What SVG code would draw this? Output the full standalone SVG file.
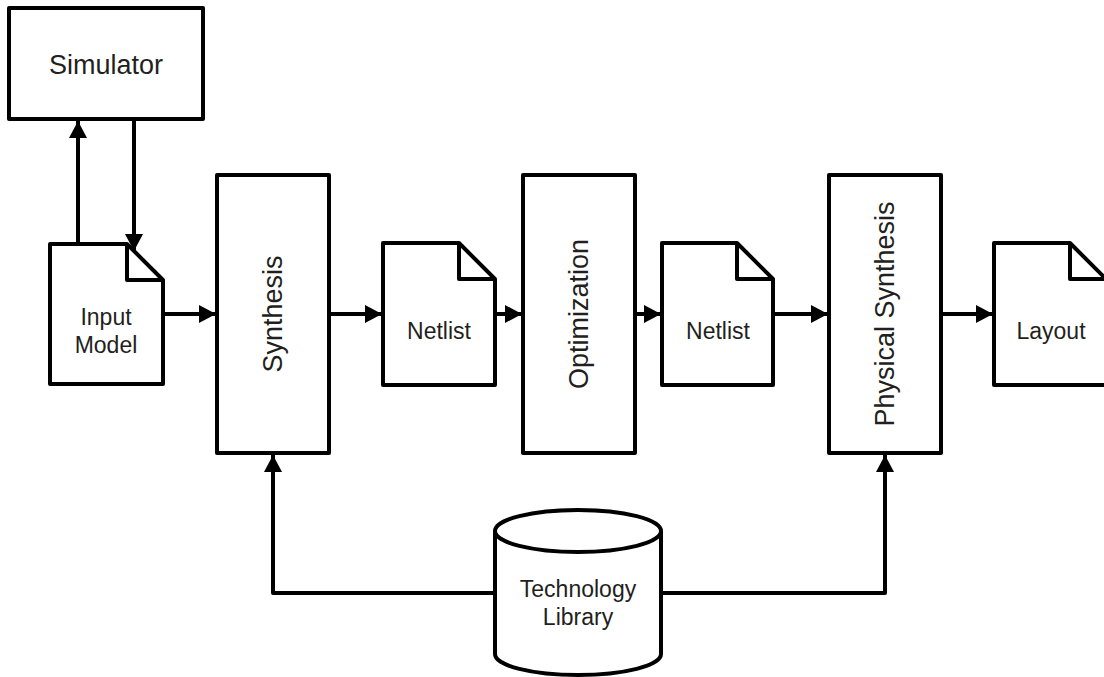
<svg xmlns="http://www.w3.org/2000/svg" width="1104" height="677" viewBox="0 0 1104 677">
  <defs>
    <marker id="arrow" markerUnits="userSpaceOnUse" markerWidth="18" markerHeight="18" refX="17" refY="9" orient="auto">
      <path d="M0,0 L17,9 L0,18 Z" fill="#000"/>
    </marker>
    <style>
      .shape { fill: #fff; stroke: #000; stroke-width: 4; stroke-linejoin: round; }
      .fold { fill: none; stroke: #000; stroke-width: 4; stroke-linejoin: round; }
      .wire { fill: none; stroke: #000; stroke-width: 4; stroke-linejoin: round; marker-end: url(#arrow); }
      .lbl { font-family: "Liberation Sans", Arial, sans-serif; fill: #231f20; text-anchor: middle; }
      .big { font-size: 27px; }
      .small { font-size: 23px; }
    </style>
  </defs>
  <rect width="1104" height="677" fill="#fff"/>

  <!-- connectors -->
  <g id="connectors">
    <path class="wire" d="M78,243 V121"/>
    <path class="wire" d="M134,121 V251"/>
    <path class="wire" d="M165,314 H216"/>
    <path class="wire" d="M331,314 H382"/>
    <path class="wire" d="M497,314 H522"/>
    <path class="wire" d="M637,314 H661"/>
    <path class="wire" d="M775,314 H828"/>
    <path class="wire" d="M943,314 H993"/>
    <path class="wire" d="M495,593 H273 V455"/>
    <path class="wire" d="M661,593 H885 V455"/>
  </g>

  <g id="simulator">
    <rect class="shape" x="9" y="8" width="194" height="111"/>
    <text class="lbl big" x="106" y="74">Simulator</text>
  </g>

  <g id="input-model">
    <path class="shape" d="M50,244 H127 L163,280 V384 H50 Z"/>
    <path class="fold" d="M127,244 V280 H163"/>
    <text class="lbl small" x="106" y="325">Input</text>
    <text class="lbl small" x="106" y="353">Model</text>
  </g>

  <g id="synthesis">
    <rect class="shape" x="217" y="175" width="112" height="278"/>
    <text class="lbl big" transform="translate(282,314) rotate(-90)">Synthesis</text>
  </g>

  <g id="netlist-1">
    <path class="shape" d="M383,243 H459 L495,279 V385 H383 Z"/>
    <path class="fold" d="M459,243 V279 H495"/>
    <text class="lbl small" x="439" y="339">Netlist</text>
  </g>

  <g id="optimization">
    <rect class="shape" x="523" y="175" width="112" height="278"/>
    <text class="lbl big" transform="translate(588,314) rotate(-90)">Optimization</text>
  </g>

  <g id="netlist-2">
    <path class="shape" d="M662,243 H737 L773,279 V385 H662 Z"/>
    <path class="fold" d="M737,243 V279 H773"/>
    <text class="lbl small" x="718" y="339">Netlist</text>
  </g>

  <g id="physical-synthesis">
    <rect class="shape" x="829" y="175" width="112" height="278"/>
    <text class="lbl big" transform="translate(894,314) rotate(-90)">Physical Synthesis</text>
  </g>

  <g id="layout">
    <path class="shape" d="M994,243 H1070 L1106,279 V385 H994 Z"/>
    <path class="fold" d="M1070,243 V279 H1106"/>
    <text class="lbl small" x="1051" y="339">Layout</text>
  </g>

  <g id="technology-library">
    <path class="shape" d="M495,531 V654 A83,21 0 0 0 661,654 V531 A83,21 0 0 0 495,531 Z"/>
    <path class="fold" d="M495,531 A83,21 0 0 0 661,531"/>
    <text class="lbl small" x="578" y="597">Technology</text>
    <text class="lbl small" x="578" y="625">Library</text>
  </g>
</svg>
